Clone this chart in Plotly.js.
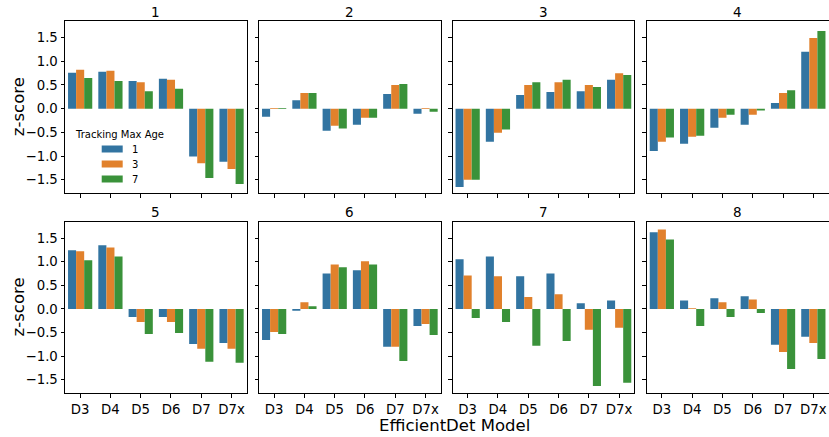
<!DOCTYPE html>
<html>
<head>
<meta charset="utf-8">
<script src="https://cdn.plot.ly/plotly-3.0.1.min.js"></script>
<style>html,body{margin:0;padding:0;background:#fff;}#chart{width:829px;height:437px;}</style>
</head>
<body>
<div id="chart"></div>
<script>
const categories = ["D3", "D4", "D5", "D6", "D7", "D7x"];
const ages = ["1", "3", "7"];
const panelTitles = ["1", "2", "3", "4", "5", "6", "7", "8"];
const yTickVals = [-1.5, -1.0, -0.5, 0.0, 0.5, 1.0, 1.5];

const panel1_age1 = [0.76, 0.78, 0.585, 0.63, -1.01, -1.12];
const panel1_age3 = [0.82, 0.80, 0.56, 0.61, -1.15, -1.27];
const panel1_age7 = [0.65, 0.585, 0.37, 0.42, -1.46, -1.59];

const panel2_age1 = [-0.17, 0.18, -0.465, -0.34, 0.31, -0.105];
const panel2_age3 = [0.015, 0.33, -0.36, -0.19, 0.50, 0.015];
const panel2_age7 = [0.015, 0.33, -0.42, -0.19, 0.52, -0.065];

const panel3_age1 = [-1.65, -0.70, 0.29, 0.35, 0.37, 0.61];
const panel3_age3 = [-1.50, -0.51, 0.50, 0.56, 0.50, 0.75];
const panel3_age7 = [-1.50, -0.44, 0.56, 0.61, 0.46, 0.71];

const panel4_age1 = [-0.89, -0.74, -0.40, -0.34, 0.12, 1.20];
const panel4_age3 = [-0.70, -0.59, -0.19, -0.13, 0.33, 1.49];
const panel4_age7 = [-0.61, -0.57, -0.13, -0.04, 0.39, 1.64];

const panel5_age1 = [1.24, 1.35, -0.17, -0.17, -0.74, -0.72];
const panel5_age3 = [1.22, 1.30, -0.275, -0.275, -0.845, -0.845];
const panel5_age7 = [1.03, 1.11, -0.53, -0.51, -1.12, -1.14];

const panel6_age1 = [-0.655, -0.04, 0.75, 0.82, -0.80, -0.36];
const panel6_age3 = [-0.49, 0.14, 0.94, 1.01, -0.80, -0.32];
const panel6_age7 = [-0.53, 0.056, 0.88, 0.94, -1.10, -0.55];

const panel7_age1 = [1.05, 1.11, 0.69, 0.75, 0.12, 0.18];
const panel7_age3 = [0.71, 0.69, 0.25, 0.31, -0.44, -0.40];
const panel7_age7 = [-0.19, -0.275, -0.78, -0.68, -1.63, -1.56];

const panel8_age1 = [1.62, 0.18, 0.225, 0.27, -0.76, -0.59];
const panel8_age3 = [1.68, 0.015, 0.14, 0.20, -0.91, -0.72];
const panel8_age7 = [1.47, -0.36, -0.17, -0.085, -1.27, -1.06];

const panels = [
  [panel1_age1, panel1_age3, panel1_age7],
  [panel2_age1, panel2_age3, panel2_age7],
  [panel3_age1, panel3_age3, panel3_age7],
  [panel4_age1, panel4_age3, panel4_age7],
  [panel5_age1, panel5_age3, panel5_age7],
  [panel6_age1, panel6_age3, panel6_age7],
  [panel7_age1, panel7_age3, panel7_age7],
  [panel8_age1, panel8_age3, panel8_age7]
];

const colors = ["#3274a1", "#e1812c", "#3a923a"];
const W = 829, H = 437;
const FONT = "DejaVu Sans, sans-serif";
const TICK = 13.3;

// panel pixel boxes
const colX = [[65, 246.7], [259, 440.7], [452.5, 634.3], [646.7, 828.5]];
const rowY = [[21, 193.3], [221.5, 393.3]];

const traces = [];
const layout = {
  width: W, height: H,
  margin: {l: 0, r: 0, t: 0, b: 0},
  paper_bgcolor: "#fff", plot_bgcolor: "#fff",
  showlegend: false,
  barmode: "group", bargap: 0.2, bargroupgap: 0,
  font: {family: FONT, size: TICK, color: "#000"},
  annotations: [], shapes: []
};

panels.forEach((series, p) => {
  const r = Math.floor(p / 4), c = p % 4;
  const idx = p === 0 ? "" : String(p + 1);
  series.forEach((vals, s) => {
    traces.push({
      type: "bar", x: categories, y: vals, name: ages[s],
      marker: {color: colors[s], line: {width: 0}},
      xaxis: "x" + idx, yaxis: "y" + idx,
      offsetgroup: String(s), hoverinfo: "x+y+name"
    });
  });
  const xd = [colX[c][0] / W, colX[c][1] / W];
  const yd = [1 - rowY[r][1] / H, 1 - rowY[r][0] / H];
  layout["xaxis" + idx] = {
    domain: xd, anchor: "y" + idx, type: "category",
    categoryorder: "array", categoryarray: categories,
    range: [-0.5, 5.5], showgrid: false, zeroline: false,
    showline: true, mirror: true, linecolor: "#000", linewidth: 1,
    ticks: "outside", ticklen: 3.5, tickwidth: 1, tickcolor: "#000",
    showticklabels: r === 1, tickfont: {family: FONT, size: TICK, color: "#000"}
  };
  layout["yaxis" + idx] = {
    domain: yd, anchor: "x" + idx, range: [-1.785, 1.85],
    tickvals: yTickVals, tickformat: ".1f",
    showgrid: false, zeroline: false,
    showline: true, mirror: true, linecolor: "#000", linewidth: 1,
    ticks: "outside", ticklen: 3.5, tickwidth: 1, tickcolor: "#000",
    showticklabels: c === 0, tickfont: {family: FONT, size: TICK, color: "#000"}
  };
  layout.annotations.push({
    text: panelTitles[p], xref: "paper", yref: "paper",
    x: (xd[0] + xd[1]) / 2, y: yd[1] + 9 / H, xanchor: "center", yanchor: "middle",
    showarrow: false, font: {family: FONT, size: 13.5, color: "#000"}
  });
  if (c === 0) {
    layout.annotations.push({
      text: "z-score", xref: "paper", yref: "paper", textangle: -90,
      x: 18 / W, y: (yd[0] + yd[1]) / 2, xanchor: "center", yanchor: "middle",
      showarrow: false, font: {family: FONT, size: 16.5, color: "#000"}
    });
  }
});

layout.annotations.push({
  text: "EfficientDet Model", xref: "paper", yref: "paper",
  x: 455 / W, y: 1 - 425 / H, xanchor: "center", yanchor: "middle",
  showarrow: false, font: {family: FONT, size: 16.5, color: "#000"}
});

// legend (drawn inside panel 1)
layout.annotations.push({
  text: "Tracking Max Age", xref: "paper", yref: "paper",
  x: 119 / W, y: 1 - 134 / H, xanchor: "center", yanchor: "middle",
  showarrow: false, font: {family: FONT, size: 10, color: "#000"}
});
ages.forEach((a, i) => {
  const cy = 149 + i * 15;
  layout.shapes.push({
    type: "rect", xref: "paper", yref: "paper",
    x0: 101.7 / W, x1: 122.7 / W, y0: 1 - (cy + 3.5) / H, y1: 1 - (cy - 3.5) / H,
    fillcolor: colors[i], line: {width: 0}
  });
  layout.annotations.push({
    text: a, xref: "paper", yref: "paper",
    x: 130 / W, y: 1 - cy / H, xanchor: "left", yanchor: "middle",
    showarrow: false, font: {family: FONT, size: 10, color: "#000"}
  });
});

Plotly.newPlot("chart", traces, layout, {displayModeBar: false, staticPlot: true});
</script>
</body>
</html>
